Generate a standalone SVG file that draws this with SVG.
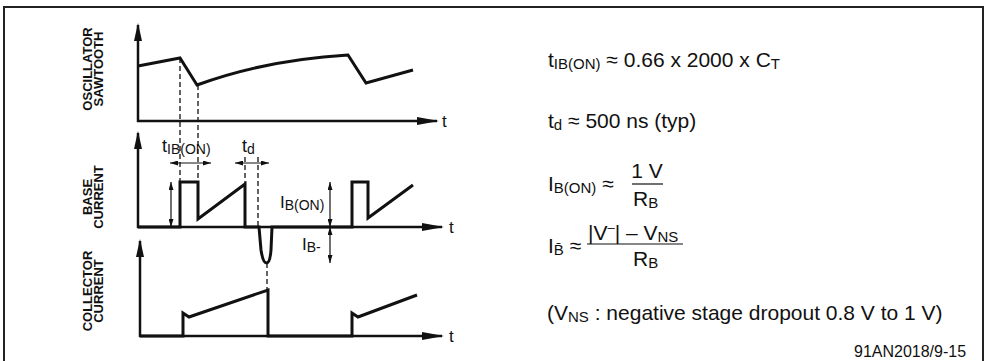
<svg xmlns="http://www.w3.org/2000/svg" width="990" height="361" viewBox="0 0 990 361">
<style>
.wave{fill:none;stroke:#111;stroke-width:3;stroke-linejoin:miter}
.axis{fill:none;stroke:#111;stroke-width:2.5}
.dash{fill:none;stroke:#111;stroke-width:1.3;stroke-dasharray:5,3}
.dim{fill:none;stroke:#111;stroke-width:1.2}
.lbl{font-family:"Liberation Sans",Arial,sans-serif;font-weight:bold;font-size:13px;fill:#111;text-anchor:middle}
.t{font-family:"Liberation Sans",Arial,sans-serif;fill:#111}
.ah{fill:#111}
</style>
<defs>
<marker id="yarr" viewBox="0 0 18 8" refX="16" refY="4" markerWidth="18" markerHeight="8" markerUnits="userSpaceOnUse" orient="auto"><path d="M0,0 L18,4 L0,8 Z" class="ah"/></marker>
<marker id="xarr" viewBox="0 0 22 8" refX="20" refY="4" markerWidth="22" markerHeight="8" markerUnits="userSpaceOnUse" orient="auto"><path d="M0,0 L22,4 L0,8 Z" class="ah"/></marker>
<marker id="sarr" viewBox="0 0 8 5" refX="8" refY="2.5" markerWidth="8" markerHeight="5" markerUnits="userSpaceOnUse" orient="auto-start-reverse"><path d="M0,0 L8,2.5 L0,5 Z" class="ah"/></marker>
</defs>
<path d="M4,361 V7 H983 V361" fill="none" stroke="#222" stroke-width="2"/>

<g id="osc-panel">
<line class="axis" x1="138" y1="122" x2="138" y2="25" marker-end="url(#yarr)"/>
<line class="axis" x1="137" y1="121" x2="437" y2="121" marker-end="url(#xarr)"/>
<path class="wave" d="M138,66 L180,58 L197,85 Q265,60 348,55 L366,83 L413,70"/>
<text class="lbl" transform="translate(92,69) rotate(-90)">OSCILLATOR</text>
<text class="lbl" transform="translate(103,69) rotate(-90)">SAWTOOTH</text>
<text class="t" x="442" y="127" font-size="17">t</text>
</g>

<g id="base-panel">
<line class="axis" x1="138" y1="228" x2="138" y2="133" marker-end="url(#yarr)"/>
<line class="axis" x1="137" y1="227" x2="442" y2="227" marker-end="url(#xarr)"/>
<path class="wave" d="M138,227 H180 V182 H198 V219 L245,184 V227 H259 L261,250 Q263,263 266.5,263 Q270,263 271,250 L272,227 H352 V182 H368 V218 L413,185"/>
<text class="lbl" transform="translate(92,197) rotate(-90)">BASE</text>
<text class="lbl" transform="translate(103,197) rotate(-90)">CURRENT</text>
<text class="t" x="449" y="233" font-size="17">t</text>
<text class="t" x="162" y="152" font-size="18">t<tspan font-size="14" dy="2">IB(ON)</tspan></text>
<text class="t" x="242" y="152" font-size="18">t<tspan font-size="14" dy="2">d</tspan></text>
<text class="t" x="280" y="208" font-size="17">I<tspan font-size="14" dy="2">B(ON)</tspan></text>
<text class="t" x="302" y="250" font-size="17">I<tspan font-size="14" dy="2">B-</tspan></text>
</g>

<g id="collector-panel">
<line class="axis" x1="140" y1="337" x2="140" y2="241" marker-end="url(#yarr)"/>
<line class="axis" x1="139" y1="336" x2="442" y2="336" marker-end="url(#xarr)"/>
<path class="wave" d="M140,336 H183 V313 L189,317 L268,290 V336 H352 V313 L358,317 L417,295"/>
<text class="lbl" transform="translate(92,291) rotate(-90)">COLLECTOR</text>
<text class="lbl" transform="translate(103,291) rotate(-90)">CURRENT</text>
<text class="t" x="449" y="342" font-size="17">t</text>
</g>

<g id="connectors">
<line class="dash" x1="180" y1="58" x2="180" y2="182"/>
<line class="dash" x1="198" y1="85" x2="198" y2="182"/>
<line class="dash" x1="245" y1="157" x2="245" y2="184"/>
<line class="dash" x1="258" y1="157" x2="258" y2="227"/>
<line class="dash" x1="267" y1="263" x2="267" y2="290"/>
<line class="dim" x1="170" y1="163" x2="211" y2="163" marker-start="url(#sarr)" marker-end="url(#sarr)"/>
<line class="dim" x1="235" y1="163" x2="269" y2="163" marker-start="url(#sarr)" marker-end="url(#sarr)"/>
<line class="dim" x1="171" y1="182" x2="171" y2="227" marker-start="url(#sarr)" marker-end="url(#sarr)"/>
<line class="dim" x1="330" y1="182" x2="330" y2="227" marker-start="url(#sarr)" marker-end="url(#sarr)"/>
<line class="dim" x1="330" y1="227" x2="330" y2="263" marker-start="url(#sarr)" marker-end="url(#sarr)"/>
</g>

<g id="formulas">
<text class="t" x="548" y="67" font-size="21">t<tspan font-size="15" dy="2">IB(ON)</tspan><tspan dy="-2">  ≈ 0.66 x 2000 x C</tspan><tspan font-size="15" dy="2">T</tspan></text>
<text class="t" x="548" y="128" font-size="21">t<tspan font-size="15" dy="2">d</tspan><tspan dy="-2"> ≈ 500 ns (typ)</tspan></text>
<text class="t" x="548" y="191" font-size="21">I<tspan font-size="15" dy="2">B(ON)</tspan><tspan dy="-2"> ≈</tspan></text>
<text class="t" x="647" y="178" font-size="21" text-anchor="middle">1 V</text>
<line x1="632" y1="184" x2="663" y2="184" stroke="#111" stroke-width="1.2"/>
<text class="t" x="633" y="206" font-size="21">R<tspan font-size="15" dy="2">B</tspan></text>
<text class="t" x="548" y="253" font-size="21">I<tspan font-size="15" dy="2">B&#x0304;</tspan><tspan dy="-2"> ≈</tspan></text>
<text class="t" x="588" y="240" font-size="21">|V<tspan font-size="13" dy="-8">–</tspan><tspan dy="8">| – V</tspan><tspan font-size="15" dy="2">NS</tspan></text>
<line x1="587" y1="244" x2="683" y2="244" stroke="#111" stroke-width="1.2"/>
<text class="t" x="633" y="266" font-size="21">R<tspan font-size="15" dy="2">B</tspan></text>
<text class="t" x="547" y="320" font-size="21">(V<tspan font-size="15" dy="2">NS</tspan><tspan dy="-2"> : negative stage dropout 0.8 V to 1 V)</tspan></text>
<text class="t" x="854" y="357" font-size="16">91AN2018/9-15</text>
</g>
</svg>
